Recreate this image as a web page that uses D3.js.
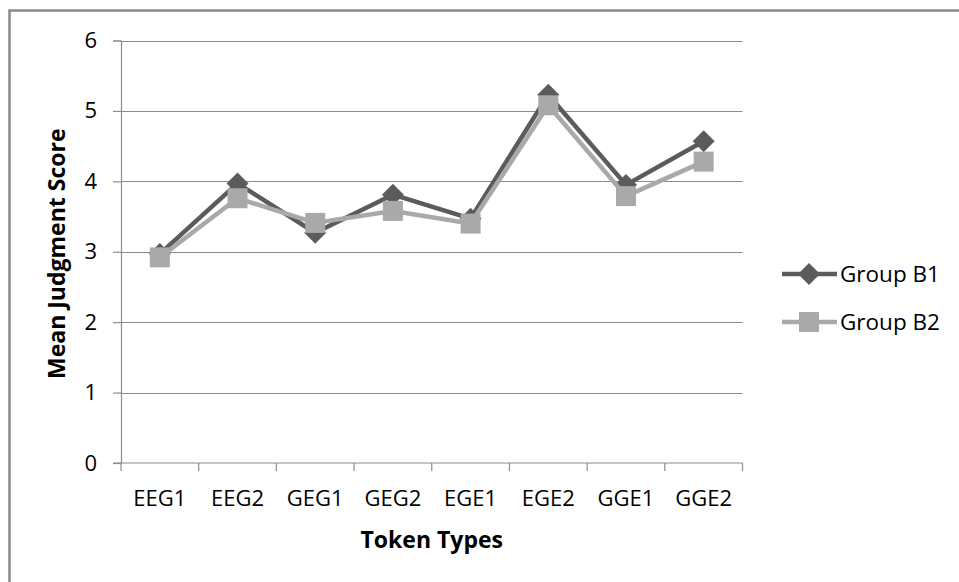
<!DOCTYPE html>
<html>
<head>
<meta charset="utf-8">
<script src="https://cdn.jsdelivr.net/npm/d3@7"></script>
<style>
  html, body { margin: 0; padding: 0; background: #fff; }
  svg { display: block; }
  text { font-family: "Open Sans", "DejaVu Sans", sans-serif; fill: #000; }
</style>
</head>
<body>
<svg id="chart" width="959" height="582"></svg>
<script>
// Mean judgment scores per token type for the two groups
const categories = ["EEG1", "EEG2", "GEG1", "GEG2", "EGE1", "EGE2", "GGE1", "GGE2"];
const groupB1 = [2.97, 3.97, 3.27, 3.81, 3.47, 5.23, 3.95, 4.57];
const groupB2 = [2.92, 3.76, 3.41, 3.58, 3.40, 5.08, 3.79, 4.28];
const seriesNames = ["Group B1", "Group B2"];
const yTicks = [0, 1, 2, 3, 4, 5, 6];

const svg = d3.select("#chart");
const W = 959, H = 582;
const gridColor = "#8c8c8c";
const colors = ["#5b5b5b", "#a9a9a9"];

// chart frame (only top and left edges fall inside the page)
svg.append("rect")
  .attr("x", 9.5).attr("y", 10.5)
  .attr("width", W + 20).attr("height", H + 20)
  .attr("fill", "none").attr("stroke", "#8a8a8a").attr("stroke-width", 2.5);

const x = d3.scaleBand().domain(categories).range([121, 742.5]).padding(0);
const y = d3.scaleLinear().domain([0, 6]).range([463, 40.5]);
const cx = d => x(d) + x.bandwidth() / 2;

// horizontal gridlines
svg.append("g").selectAll("line")
  .data(yTicks.filter(t => t > 0))
  .join("line")
  .attr("x1", x.range()[0]).attr("x2", x.range()[1])
  .attr("y1", d => Math.round(y(d)) + 0.5).attr("y2", d => Math.round(y(d)) + 0.5)
  .attr("stroke", gridColor).attr("stroke-width", 1.2);

// y axis
const yAxis = svg.append("g")
  .attr("transform", `translate(${x.range()[0]},0)`)
  .call(d3.axisLeft(y).tickValues(yTicks).tickSize(8).tickPadding(16).tickFormat(d3.format("d")));
yAxis.select(".domain").attr("stroke", gridColor).attr("stroke-width", 1.2);
yAxis.selectAll(".tick line").attr("stroke", gridColor).attr("stroke-width", 1.2);
yAxis.selectAll(".tick text")
  .attr("font-size", 22).attr("font-family", "Open Sans").attr("fill", "#000");

// x axis: ticks sit on the band boundaries, labels in the band centres
const xAxisG = svg.append("g").attr("transform", `translate(0,${y(0)})`);
xAxisG.append("line")
  .attr("x1", x.range()[0] - 8).attr("x2", x.range()[1])
  .attr("stroke", gridColor).attr("stroke-width", 1.2);
const boundaries = categories.map(c => x(c)).concat([x.range()[1]]);
xAxisG.selectAll("line.tk").data(boundaries).join("line")
  .attr("class", "tk")
  .attr("x1", d => d).attr("x2", d => d)
  .attr("y1", 0).attr("y2", 8)
  .attr("stroke", gridColor).attr("stroke-width", 1.2);
xAxisG.selectAll("text").data(categories).join("text")
  .attr("x", d => cx(d)).attr("y", 43)
  .attr("text-anchor", "middle")
  .attr("font-size", 22)
  .text(d => d);

// axis titles
svg.append("text")
  .attr("x", (x.range()[0] + x.range()[1]) / 2).attr("y", 548)
  .attr("text-anchor", "middle").attr("font-size", 23).attr("font-weight", "bold")
  .text("Token Types");
svg.append("text")
  .attr("transform", `translate(65,${(y(0) + y(6)) / 2 + 2}) rotate(-90)`)
  .attr("text-anchor", "middle").attr("font-size", 23).attr("font-weight", "bold")
  .text("Mean Judgment Score");

// series
const series = [groupB1, groupB2];
const line = d3.line().x((d, i) => cx(categories[i])).y(d => y(d));
const diamond = d3.symbol().type(d3.symbolSquare).size(240);
const square = d3.symbol().type(d3.symbolSquare).size(400);

series.forEach((vals, si) => {
  const g = svg.append("g");
  g.append("path").datum(vals)
    .attr("d", line).attr("fill", "none")
    .attr("stroke", colors[si]).attr("stroke-width", 4.5)
    .attr("stroke-linejoin", "round");
  g.selectAll("path.m").data(vals).join("path")
    .attr("class", "m")
    .attr("d", si === 0 ? diamond : square)
    .attr("transform", (d, i) => `translate(${cx(categories[i])},${y(d)})` + (si === 0 ? " rotate(45)" : ""))
    .attr("fill", colors[si]);
});

// legend
const legend = svg.append("g");
seriesNames.forEach((name, si) => {
  const ly = 274 + si * 48;
  legend.append("line")
    .attr("x1", 782).attr("x2", 837).attr("y1", ly).attr("y2", ly)
    .attr("stroke", colors[si]).attr("stroke-width", 4.5);
  legend.append("path")
    .attr("d", si === 0 ? diamond : square)
    .attr("transform", `translate(809,${ly})` + (si === 0 ? " rotate(45)" : ""))
    .attr("fill", colors[si]);
  legend.append("text")
    .attr("x", 840).attr("y", ly).attr("dy", "0.37em")
    .attr("font-size", 22.5)
    .text(name);
});
</script>
</body>
</html>
